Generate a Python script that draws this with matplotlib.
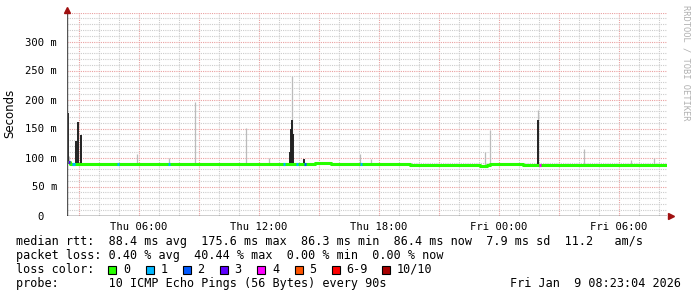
import matplotlib
matplotlib.use("Agg")
import matplotlib.pyplot as plt
from matplotlib.patches import Rectangle

# time axis: hours since Thu 02:23 (30 h window)
median_t = [0, 0.15, 12.4, 13.2, 17.15, 20.65, 21.0, 21.15, 22.8, 23.55, 29.9]
median_v = [92, 88, 91, 88, 86.5, 85, 87, 89.5, 86.5, 87, 87]

# dark smoke spikes (hour, top ms)
dark_t = [0.05, 0.45, 0.53, 0.68, 11.15, 11.2, 11.25, 11.3, 11.85, 23.55]
dark_top = [177, 129, 161, 139, 110, 150, 165, 140, 97, 165]

# light smoke spikes (hour, top ms)
light_t = [0.1, 3.5, 5.1, 6.4, 8.95, 10.1, 11.25, 14.65, 15.2, 20.9, 21.15, 23.55, 25.85, 28.2, 29.35]
light_top = [103, 106, 100, 196, 151, 100, 240, 106, 97, 109, 147, 182, 114, 95, 99]

# loss colour markers on the median line (hour, loss class)
loss_t = [0.05, 0.25, 0.3, 2.5, 5.05, 10.8, 11.45, 11.85, 14.65, 23.6]
loss_cls = [3, 1, 1, 1, 1, 1, 1, 2, 1, 4]

loss_labels = ["0", "1", "2", "3", "4", "5", "6-9", "10/10"]
loss_colors = ["#26ff00", "#00b8ff", "#0059ff", "#5e00ff", "#ff00ff", "#ff5500", "#ff0000", "#a80000"]

xtick_hours = [3.6, 9.6, 15.6, 21.6, 27.6]
xtick_labels = ["Thu 06:00", "Thu 12:00", "Thu 18:00", "Fri 00:00", "Fri 06:00"]
ytick_vals = [0, 50, 100, 150, 200, 250, 300]
ytick_labels = ["0  ", "50 m", "100 m", "150 m", "200 m", "250 m", "300 m"]

legend_rows = [
    "median rtt:  88.4 ms avg  175.6 ms max  86.3 ms min  86.4 ms now  7.9 ms sd  11.2   am/s",
    "packet loss: 0.40 % avg  40.44 % max  0.00 % min  0.00 % now",
    "loss color:",
    "probe:       10 ICMP Echo Pings (56 Bytes) every 90s",
]
stamp = "Fri Jan  9 08:23:04 2026"

W, H = 697, 297
fig = plt.figure(figsize=(W / 100, H / 100), dpi=100)
fig.patch.set_facecolor("white")
ax = fig.add_axes([67 / W, 1 - 215.5 / H, 600 / W, 203 / H])
ax.set_xlim(0, 30)
ax.set_ylim(0, 350)

mono = "DejaVu Sans Mono"

ax.set_xticks(xtick_hours)
ax.set_xticklabels(xtick_labels, family=mono, fontsize=7.6)
ax.set_yticks(ytick_vals)
ax.set_yticklabels(ytick_labels, family=mono, fontsize=7.6)
ax.tick_params(length=0, pad=7)
ax.tick_params(axis="x", pad=5)

# grid: hourly / 10 ms minor, 3 h / 50 ms major
for i in range(30):
    h = 0.6 + i
    ax.axvline(h, color="#eaa0a0" if i % 3 == 0 else "#cccccc", lw=0.8, ls=(0, (1, 1)), zorder=0)
for v in range(10, 351, 10):
    ax.axhline(v, color="#eaa0a0" if v % 50 == 0 else "#cccccc", lw=0.8, ls=(0, (1, 1)), zorder=0)

# smoke
def base(t):
    return median_v[max(i for i in range(len(median_t)) if median_t[i] <= t)]

ax.vlines(light_t, [base(t) for t in light_t], light_top, color="#bbbbbb", lw=0.9, zorder=2)
ax.vlines(dark_t, [base(t) for t in dark_t], dark_top, color="#222222", lw=1.4, zorder=3)

# median
ax.step(median_t, median_v, where="post", color=loss_colors[0], lw=2.2, zorder=4)
for t, c in zip(loss_t, loss_cls):
    ax.hlines(base(t), t, t + 0.1, color=loss_colors[c], lw=2.2, zorder=5)

for s in ax.spines.values():
    s.set_visible(False)
ax.axvline(0, color="#555555", lw=1, zorder=6)
ax.axhline(0, color="black", lw=1, zorder=6)
ax.plot([0], [355], marker="^", color="#a01010", ms=4, clip_on=False, zorder=7)
ax.plot([30.2], [0], marker=">", color="#a01010", ms=4, clip_on=False, zorder=7)

fig.text(10 / W, 1 - 113 / H, "Seconds", rotation=90, ha="center", va="center",
         family="DejaVu Sans", fontsize=8.5)
fig.text(686 / W, 1 - 5 / H, "RRDTOOL / TOBI OETIKER", rotation=270, ha="center", va="top",
         family=mono, fontsize=6.3, color="#b0b0b0")

rows_y = [241.5, 255.5, 269.5, 283.5]
for txt, y in zip(legend_rows, rows_y):
    fig.text(16 / W, 1 - y / H, txt, ha="left", va="center", family=mono, fontsize=8.47)
fig.text(681 / W, 1 - rows_y[3] / H, stamp, ha="right", va="center", family=mono, fontsize=8.47)

sq_x = [108, 145.5, 182.5, 219.5, 257, 294.5, 331.7, 381.7]
for x, lab, col in zip(sq_x, loss_labels, loss_colors):
    fig.patches.append(Rectangle((x / W, 1 - 273.5 / H), 8 / W, 8 / H, transform=fig.transFigure,
                                 facecolor=col, edgecolor="black", lw=0.8, figure=fig))
    fig.text((x + 15) / W, 1 - rows_y[2] / H, lab, ha="left", va="center", family=mono, fontsize=8.47)

fig.savefig("out.png", dpi=100, facecolor="white")
